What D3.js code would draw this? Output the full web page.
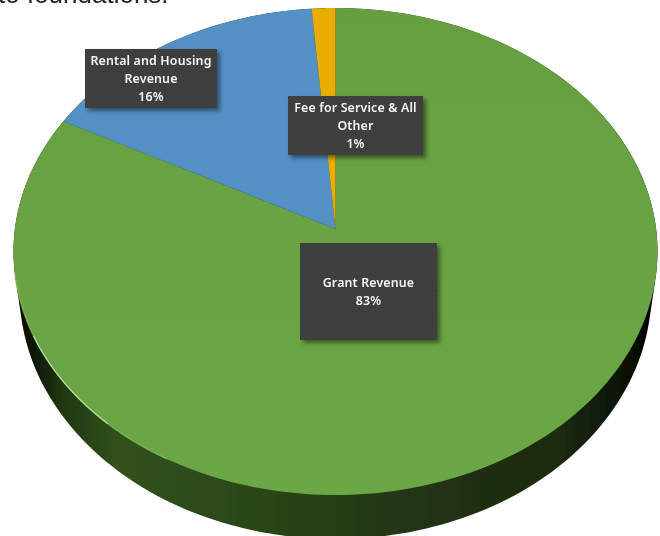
<!DOCTYPE html>
<html><head><meta charset="utf-8">
<script src="https://cdn.jsdelivr.net/npm/d3@7/dist/d3.min.js"></script>
<style>html,body{margin:0;padding:0;background:#fff;overflow:hidden}svg{display:block}</style>
</head><body><svg id="c" width="660" height="536"></svg>
<script>
const categories = ["Grant Revenue", "Rental and Housing Revenue", "Fee for Service & All Other"];
const values = [82.7, 16, 1.3];
const percentLabels = ["83%", "16%", "1%"];
const labelLines = [["Grant Revenue", "83%"], ["Rental and Housing", "Revenue", "16%"], ["Fee for Service & All", "Other", "1%"]];
const labelBoxes = [[300,243,137,97],[85,49,132,59],[288,96,135,59]];
const colors = ["#69a343", "#5390c6", "#e8ad00"];
const titleFragment = "to foundations.";

const svg = d3.select("#c");
const defs = svg.append("defs");

// perspective projection of the unit disc
const cx = 335.5, R = 320.6, persp = 0.0924, A = -220.26, B = 229;
const project = (angle, r = 1) => {
  const u = r * Math.sin(angle), v = r * Math.cos(angle), w = 1 + persp * v;
  return [cx + R * u / w, (A * v + B) / w];
};
const TAU = Math.PI * 2;
const arcPts = (a0, a1) => d3.range(0, 241).map(i => project(a0 + (a1 - a0) * i / 240));
const line = d3.line();

const sideGrad = defs.append("linearGradient").attr("id", "side").attr("gradientUnits","userSpaceOnUse").attr("x1",13).attr("x2",658).attr("y1",0).attr("y2",0);
[[0,"#000000"],[0.03,"#0c1606"],[0.08,"#213a11"],[0.16,"#31501c"],[0.3,"#2e4a1b"],[0.5,"#253e15"],[0.7,"#202f12"],[0.85,"#1c2a0f"],[0.93,"#0e1708"],[0.98,"#020401"],[1,"#000000"]]
  .forEach(([o,c]) => sideGrad.append("stop").attr("offset", o).attr("stop-color", c));
const topGrad = defs.append("linearGradient").attr("id", "top").attr("x1",0).attr("x2",0).attr("y1",0).attr("y2",1);
[[0,"#669f41"],[1,"#6ca745"]].forEach(([o,c]) => topGrad.append("stop").attr("offset", o).attr("stop-color", c));

const pat = defs.append("pattern").attr("id","dots").attr("width",4).attr("height",4).attr("patternUnits","userSpaceOnUse");
pat.append("rect").attr("width",4).attr("height",4).attr("fill","#3d3d3d");
pat.append("rect").attr("width",1).attr("height",1).attr("fill","#4a4a4a");
pat.append("rect").attr("x",2).attr("y",2).attr("width",1).attr("height",1).attr("fill","#4a4a4a");

const shadow = defs.append("filter").attr("id","sh").attr("x","-10%").attr("y","-10%").attr("width","125%").attr("height","125%");
shadow.append("feDropShadow").attr("dx",3).attr("dy",3).attr("stdDeviation",2).attr("flood-color","#000").attr("flood-opacity",0.45);
const soft = defs.append("filter").attr("id","soft").attr("x","-5%").attr("y","-5%").attr("width","110%").attr("height","110%");
soft.append("feGaussianBlur").attr("stdDeviation",0.45);
const glow = defs.append("filter").attr("id","glow").attr("x","-10%").attr("y","-10%").attr("width","120%").attr("height","120%");
glow.append("feGaussianBlur").attr("stdDeviation",0.7);

const root = svg.append("g").attr("filter","url(#soft)");

// clipped title fragment, as in the reference crop
root.append("text").attr("x",-2).attr("y",3).attr("font-family","Liberation Sans, Arial, sans-serif").attr("font-size",26).attr("fill","#222").text(titleFragment);

// side wall: hull between the top rim and a narrower lower rim
const lowRx = 316, lowRy = 248, lowCy = 291;
const rim = arcPts(0, TAU);
const lowRim = d3.range(0, 241).map(i => [cx + lowRx * Math.sin(TAU*i/240), lowCy + lowRy * Math.cos(TAU*i/240)]);
const hull = d3.polygonHull(rim.concat(lowRim));
root.append("path").attr("d", line(hull) + "Z").attr("fill","url(#side)");

// slices
const pie = d3.pie().sort(null).value(d => d);
const arcs = pie(values);
root.append("g").selectAll("path").data(arcs).join("path")
  .attr("d", d => line([project(0,0), ...arcPts(d.startAngle, d.endAngle)]) + "Z")
  .attr("fill", (d,i) => i === 0 ? "url(#top)" : colors[i]);

// rim highlight on the lower left
root.append("path").attr("d", line(arcPts(TAU*0.72, TAU*0.58))).attr("fill","none").attr("stroke","#8cc465").attr("stroke-width",1.4).attr("opacity",0.7).attr("filter","url(#glow)");
root.append("path").attr("d", line(arcPts(TAU*0.68, TAU*0.615))).attr("fill","none").attr("stroke","#c4eaa4").attr("stroke-width",1.1).attr("opacity",0.9);

// labels
const lab = root.selectAll("g.lab").data(categories).join("g").attr("class","lab");
lab.append("rect")
  .attr("x",(d,i)=>labelBoxes[i][0]).attr("y",(d,i)=>labelBoxes[i][1])
  .attr("width",(d,i)=>labelBoxes[i][2]).attr("height",(d,i)=>labelBoxes[i][3])
  .attr("fill","url(#dots)").attr("filter","url(#sh)");
lab.each(function(d,i){
  const b = labelBoxes[i], ls = labelLines[i], lh = 18.3;
  const y0 = b[1] + b[3]/2 - (ls.length-1)*lh/2 + 4.5;
  d3.select(this).selectAll("text").data(ls).join("text")
    .attr("x", b[0]+b[2]/2).attr("y",(t,j)=>y0+j*lh)
    .attr("text-anchor","middle").attr("fill","#f4f6fa")
    .attr("font-family","Noto Sans, sans-serif").attr("font-size",12.4).attr("font-weight",600)
    .attr("letter-spacing",0.15)
    .text(t=>t);
});
</script></body></html>
